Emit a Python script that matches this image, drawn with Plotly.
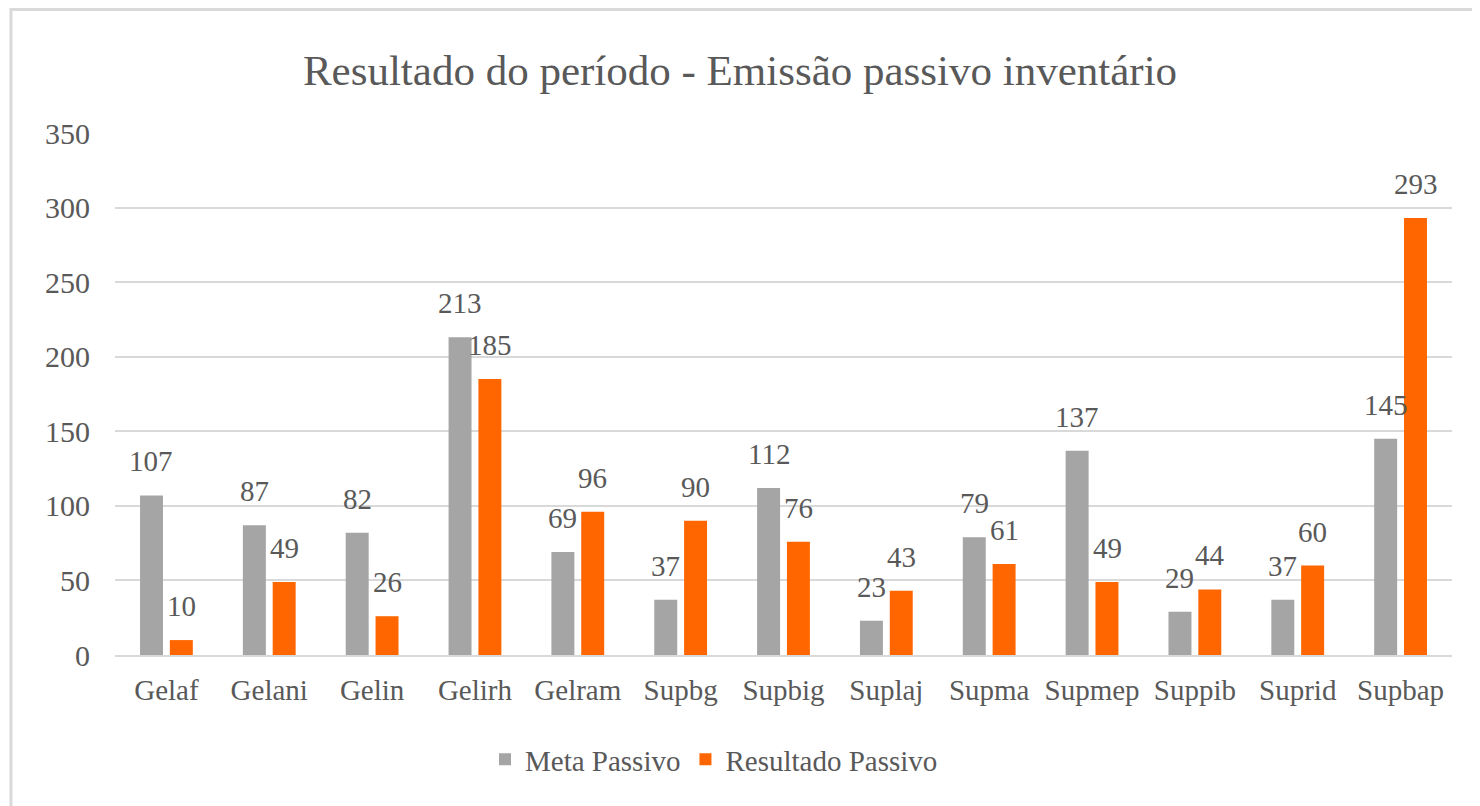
import plotly.graph_objects as go

categorias = ["Gelaf", "Gelani", "Gelin", "Gelirh", "Gelram", "Supbg", "Supbig",
              "Suplaj", "Supma", "Supmep", "Suppib", "Suprid", "Supbap"]
meta_passivo = [107, 87, 82, 213, 69, 37, 112, 23, 79, 137, 29, 37, 145]
resultado_passivo = [10, 49, 26, 185, 96, 90, 76, 43, 61, 49, 44, 60, 293]

CINZA = "#A5A5A5"
LARANJA = "#FF6600"
TEXTO = "#595959"
FONTE = "Liberation Serif"

fig = go.Figure()
fig.add_trace(go.Bar(x=categorias, y=meta_passivo, name="Meta Passivo",
                     marker=dict(color=CINZA, line=dict(width=0))))
fig.add_trace(go.Bar(x=categorias, y=resultado_passivo, name="Resultado Passivo",
                     marker=dict(color=LARANJA, line=dict(width=0))))

# data labels above each bar, shifted onto its bar within the group
anotacoes = []
for serie, desloc in ((meta_passivo, -15), (resultado_passivo, 15)):
    for cat, v in zip(categorias, serie):
        anotacoes.append(dict(x=cat, y=v, xref="x", yref="y", text=str(v),
                              showarrow=False, xshift=desloc, yshift=16,
                              yanchor="bottom",
                              font=dict(family=FONTE, size=29, color=TEXTO)))

# the page body adds an 8px offset, so margins are trimmed by that amount
fig.update_layout(
    width=1480, height=806,
    font=dict(family=FONTE, color=TEXTO),
    paper_bgcolor="white", plot_bgcolor="white",
    margin=dict(l=107, r=36, t=125, b=159),
    title=dict(text="Resultado do período - Emissão passivo inventário",
               x=0.4946, xanchor="center", y=1 - 62 / 806, yanchor="middle",
               font=dict(family=FONTE, size=43, color=TEXTO)),
    barmode="group", bargap=0.42, bargroupgap=0.23,
    showlegend=True,
    legend=dict(orientation="h", x=0.448, xanchor="center", y=-0.2,
                yanchor="middle", itemwidth=30, tracegroupgap=0,
                font=dict(family=FONTE, size=29, color=TEXTO)),
    annotations=anotacoes,
    shapes=[dict(type="rect", xref="paper", yref="paper",
                 x0=-0.0778, x1=1.03, y0=-0.31, y1=1.2366,
                 line=dict(color="#D9D9D9", width=3), fillcolor="rgba(0,0,0,0)",
                 layer="below")],
)
fig.update_xaxes(showgrid=False, showline=True, linecolor="#D9D9D9", linewidth=2,
                 ticks="", ticklabelstandoff=8,
                 tickfont=dict(family=FONTE, size=29, color=TEXTO))
fig.update_yaxes(range=[0, 350], dtick=50, showgrid=True, gridcolor="#D9D9D9",
                 gridwidth=2, zeroline=False, showline=False, ticks="",
                 ticklabelstandoff=24,
                 tickfont=dict(family=FONTE, size=30, color=TEXTO))

fig.write_html("out.html")
